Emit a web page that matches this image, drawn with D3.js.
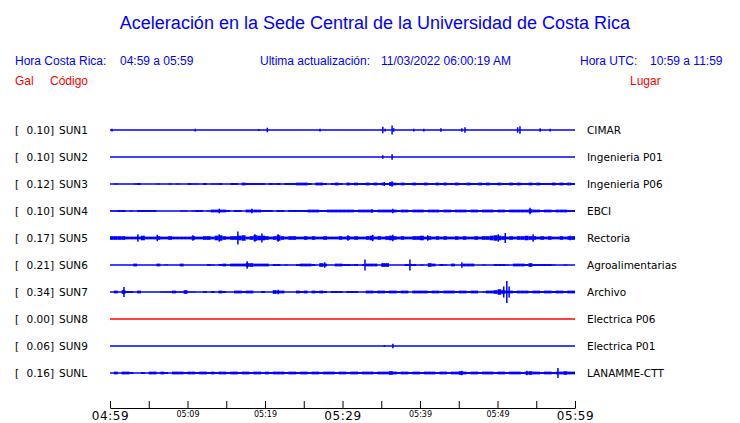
<!DOCTYPE html>
<html><head><meta charset="utf-8">
<script src="https://cdn.jsdelivr.net/npm/d3@7/dist/d3.min.js"></script>
<style>
body{margin:0;background:#fff;}
svg{display:block;}
.hdr{font-family:"Liberation Sans",Arial,sans-serif;}
.dv{font-family:"DejaVu Sans",sans-serif;}
</style></head>
<body><svg id="c" width="740" height="423"></svg>
<script>
// ---------- data ----------
const titleText = "Aceleración en la Sede Central de la Universidad de Costa Rica";
const codes  = ["SUN1","SUN2","SUN3","SUN4","SUN5","SUN6","SUN7","SUN8","SUN9","SUNL"];
const peaks  = ["0.10","0.10","0.12","0.10","0.17","0.21","0.34","0.00","0.06","0.16"];
const places = ["CIMAR","Ingenieria P01","Ingenieria P06","EBCI","Rectoria","Agroalimentarias","Archivo","Electrica P06","Electrica P01","LANAMME-CTT"];
const status = ["ok","ok","ok","ok","ok","ok","ok","off","ok","ok"];
const tickLabels = ["04:59","05:09","05:19","05:29","05:39","05:49","05:59"];
const majorLabels = ["04:59","05:29","05:59"];

// envelope amplitude per 30-second bin (120 bins, 04:59 -> 05:59)
const envSUN1 = [];
const envSUN2 = [];
const envSUN3 = [0,0.5,0,0,0,0,0.5,1,0,0, 0,0,0.5,0,0,0.5,0,0.5,0,0, 1,0.5,0.5,0,1,0,0.5,0.5,1,0, 0,1,1,0,1.5,1,1,1,1,1,
 0,1,0.5,1,0,1,1,1,1.5,1.5, 1.5,1,0,1.5,1.5,1,0,1,1.5,1, 0,1.5,1,1.5,1,1,1.5,1,1.5,1, 1.5,1,2,1.5,1,1.5,1,1,1.5,1,
 1,1.5,1,1,1.5,1,1.5,1,1,1.5, 1,1,1.5,1,1,1.5,1,1.5,1,1, 1.5,1,1,1.5,1,1.5,1,1,1.5,1, 1.5,1,1,1,1.5,1,1.5,1,1.5,1];
const envSUN4 = [0.5,0.5,1,1,0,0.5,0,1,1,1, 1,1,0,0,0,0,0,0,0.5,0.5, 0,0.5,1,1,0,0.5,1.5,1.5,1.5,1.5, 1,0,1,1,0,1.5,1.5,1.5,1.5,1,
 1,1,0,1,1,0,1,1,1,1, 1,1.5,1.5,1.5,1,1,1.5,1.5,1.5,1.5, 1.5,1.5,1.5,1,1.5,1.5,1.5,1.5,1,1.5, 1.5,1.5,1.5,1.5,1,1.5,1.5,1,1.5,1.5,
 1.5,1,1.5,1.5,1.5,1,1.5,1.5,1,1.5, 1.5,1.5,1,1.5,1.5,1,1.5,1.5,1.5,1, 1.5,1.5,1,1.5,1.5,1.5,1.5,1.5,2,1.5, 1.5,1,1.5,1.5,1,1.5,1.5,1.5,1,1];
const envSUN5 = [2,2,2,2,1.5,1.5,1.5,1.5,2.5,1.5, 1.5,1.5,2,1.5,1.5,2,1.5,1.5,1.5,1.5, 1.5,2,1.5,1.5,2,2,1.5,2.5,3,2, 1.5,2,2,2.5,3,1.5,2,3,2.5,2.5,
 2,1.5,2,3,2,1.5,2,2,1.5,1.5, 2,1.5,2,1.5,1.5,2,1.5,1.5,1.5,2, 1.5,2,1.5,2,1.5,1.5,2,2.5,1.5,2, 1.5,2,2.5,2,1.5,2,1.5,1.5,2,2,
 2.5,1.5,2,1.5,2,1.5,2,1.5,1.5,2, 1.5,2,1.5,1.5,2,1.5,2,2,2.5,3, 2.5,2,1.5,2,1.5,2,2,2.5,2,2, 1.5,2,1.5,2,1.5,1.5,2,1.5,2,2];
const envSUN6 = [0,0,0,0,0,0,1.5,0,0,0, 0,0,1.5,0,0.5,0,0,0,1.5,0, 0,0,0,0,0,1,0.5,0,1,1.5, 0.5,1.5,1.5,1.5,1.5,2,2,1.5,1.5,1.5,
 1.5,0,1,1,0,0.5,0,0,1,1.5, 1.5,1.5,1,0,2,1.5,0,0,1.5,1.5, 1,1,0.5,1,0,1,1.5,1.5,1.5,0, 2,2,0,0,0,0,1,1,1,0,
 0.5,0,2,1.5,0,1,0.5,0,1.5,0, 0,1.5,1.5,1.5,0,0,0.5,0,0,1, 1,1,0.5,0,1.5,1.5,1.5,1,2,1, 1,1,1,1,0.5,0,0,0.5,0,0];
const envSUN7 = [0,1.5,0,2,1,1,0,1.5,0,0, 0,0,0,0.5,0.5,0.5,1.5,0.5,0.5,2, 0.5,0.5,0,0,1,0,1,0,1.5,1, 0,0,1.5,1.5,1,1.5,1.5,0,0,1,
 0,0,2,1.5,1.5,0,0,0,1.5,1, 1.5,0,1.5,1,1.5,1,0,1,1,1, 0,1,1,1,0,0,1.5,1.5,1,1.5, 1.5,1,1.5,1.5,1,1.5,1.5,0,1.5,1.5,
 1.5,1.5,1,1.5,1.5,1,1.5,1.5,1.5,1, 1.5,1.5,1,1.5,1.5,0,0.5,1.5,1.5,2, 3,2,1.5,1.5,1,1.5,1.5,1.5,1,1.5, 1.5,1,1.5,1.5,1,1.5,1.5,1,1.5,1.5];
const envSUN8 = [];
const envSUN9 = [];
const envSUNL = [0,1.5,0,1.5,1.5,1,0,0,1,0, 1.5,1.5,0.5,1.5,1,0,1.5,1.5,1.5,1, 1.5,1.5,1,1.5,1.5,1,1.5,1,1.5,1.5, 1,1.5,1.5,1,1.5,1.5,1,1.5,1.5,1,
 1.5,1,1.5,1.5,1.5,1,1.5,1.5,1,1.5, 1.5,1,1.5,1.5,1,1.5,1.5,1.5,1,1.5, 1.5,1,1.5,1.5,1,1.5,1.5,1.5,1,1.5, 1.5,1.5,2,1.5,1,1.5,1.5,1,1.5,1.5,
 1,1.5,1.5,1.5,1,1.5,1.5,1,1.5,1.5, 2,1.5,1,1.5,1.5,1,1.5,1.5,1.5,1, 1.5,1.5,1,1.5,1.5,1.5,1,1.5,2,1.5, 1.5,1,1.5,1.5,1,1.5,1.5,2,1.5,1.5];

// narrow spikes: [minutes after 04:59, amplitude]
const spkSUN1 = [[0.26,1.5],[11.0,1.5],[19.2,1],[20.3,2.5],[27.1,1.5],[35.2,3.5],[35.5,1.5],[36.4,5],[36.6,2],[39.2,1.5],[40.5,1.5],[42.7,2],[45.4,2],[45.8,3],[52.6,3],[52.9,4],[55.5,2],[56.8,1.5]];
const spkSUN2 = [[35.2,2],[36.4,3]];
const spkSUN3 = [[35.4,2],[36.4,3]];
const spkSUN4 = [[14.1,2.5],[18.3,2.5],[33.8,2],[36.5,2.5],[54.2,3.5]];
const spkSUN5 = [[3.6,4],[6.1,3.5],[10.7,3],[14.1,4],[16.5,7],[18.7,4],[19.6,5],[21.7,4],[30.7,3],[33.9,3.5],[36.5,3.5],[41.0,3],[50.1,4],[51.0,5.5],[54.6,4],[59.4,2.5]];
const spkSUN6 = [[17.7,4],[27.7,3],[32.9,6],[38.7,6],[45.4,3]];
const spkSUN7 = [[1.8,5.5],[21.7,2.5],[50.8,6],[51.2,12],[51.5,6]];
const spkSUN8 = [];
const spkSUN9 = [[35.4,1],[36.5,2.5]];
const spkSUNL = [[45.4,2.5],[53.8,2.5],[57.8,5.5]];

const envelopes = [envSUN1,envSUN2,envSUN3,envSUN4,envSUN5,envSUN6,envSUN7,envSUN8,envSUN9,envSUNL];
const spikes    = [spkSUN1,spkSUN2,spkSUN3,spkSUN4,spkSUN5,spkSUN6,spkSUN7,spkSUN8,spkSUN9,spkSUNL];

// ---------- drawing ----------
const svg = d3.select("#c");
const BLUE = "#0000ff", RED = "#ff0000";
const t0 = new Date(2022,2,11,4,59,0), t1 = new Date(2022,2,11,5,59,0);
const x = d3.scaleTime().domain([t0,t1]).range([110,575]);
const y = d3.scalePoint().domain(codes).range([130,373]);
const amp = d3.scaleLinear().domain([0,12]).range([0,11]);
const colorOf = d3.scaleOrdinal().domain(["ok","off"]).range([BLUE,RED]);
const minToDate = m => new Date(t0.getTime() + m*60000);

// title
svg.append("text").attr("class","hdr").attr("x",375).attr("y",29)
  .attr("text-anchor","middle").attr("font-size",18).attr("fill",BLUE).text(titleText);

// header
const hdr = [["Hora Costa Rica:",15],["04:59 a 05:59",120],["Ultima actualización:",260],["11/03/2022 06:00:19 AM",381],["Hora UTC:",580],["10:59 a 11:59",650]];
svg.selectAll("text.h1").data(hdr).join("text").attr("class","hdr h1")
  .attr("x",d=>d[1]).attr("y",65).attr("font-size",12).attr("fill",BLUE).text(d=>d[0]);
const hdr2 = [["Gal",15],["Código",50],["Lugar",630]];
svg.selectAll("text.h2").data(hdr2).join("text").attr("class","hdr h2")
  .attr("x",d=>d[1]).attr("y",85).attr("font-size",12).attr("fill",RED).text(d=>d[0]);

// rows
const rows = svg.selectAll("g.row").data(codes).join("g").attr("class","row")
  .attr("transform",d=>`translate(0,${y(d)})`);

rows.append("text").attr("class","dv").attr("x",15).attr("y",4).attr("font-size",10.5).text("[");
rows.append("text").attr("class","dv").attr("x",54).attr("y",4).attr("text-anchor","end").attr("font-size",10.5).text((d,i)=>peaks[i]+"]");
rows.append("text").attr("class","dv").attr("x",59).attr("y",4).attr("font-size",10.5).text(d=>d);
rows.append("text").attr("class","dv").attr("x",587).attr("y",4).attr("font-size",10.5).text((d,i)=>places[i]);

rows.each(function(code,i){
  const g = d3.select(this);
  const col = colorOf(status[i]);
  g.append("line").attr("x1",x(t0)).attr("x2",x(t1)).attr("y1",0).attr("y2",0)
    .attr("stroke",col).attr("stroke-width",1.3);
  g.selectAll("rect.env").data(envelopes[i].map((a,k)=>({k,a})).filter(d=>d.a>0)).join("rect")
    .attr("class","env")
    .attr("x",d=>x(minToDate(d.k*0.5)))
    .attr("width",d=>x(minToDate((d.k+1)*0.5))-x(minToDate(d.k*0.5)))
    .attr("y",d=>-amp(d.a)).attr("height",d=>2*amp(d.a)).attr("fill",col);
  g.selectAll("line.spk").data(spikes[i]).join("line").attr("class","spk")
    .attr("x1",d=>x(minToDate(d[0]))).attr("x2",d=>x(minToDate(d[0])))
    .attr("y1",d=>-amp(d[1])).attr("y2",d=>amp(d[1]))
    .attr("stroke",col).attr("stroke-width",1.5);
});

// axis
const tickDates = d3.range(0,13).map(k=>minToDate(k*5));
const fmt = d3.timeFormat("%H:%M");
const axis = d3.axisBottom(x).tickValues(tickDates).tickSizeInner(-7).tickSizeOuter(0).tickPadding(4)
  .tickFormat(d=>tickLabels.includes(fmt(d)) ? fmt(d) : "");
const ag = svg.append("g").attr("transform","translate(0,408)").call(axis);
ag.select(".domain").attr("stroke","#000").attr("stroke-width",1);
ag.selectAll(".tick line").attr("stroke","#000");
ag.selectAll(".tick text").attr("font-family","DejaVu Sans, sans-serif").attr("fill","#000")
  .attr("dy",null).attr("y",d=>majorLabels.includes(fmt(d))?12:9)
  .attr("font-size",d=>majorLabels.includes(fmt(d))?12:8)
  .attr("letter-spacing",d=>majorLabels.includes(fmt(d))?"0.6px":null);
</script></body></html>
